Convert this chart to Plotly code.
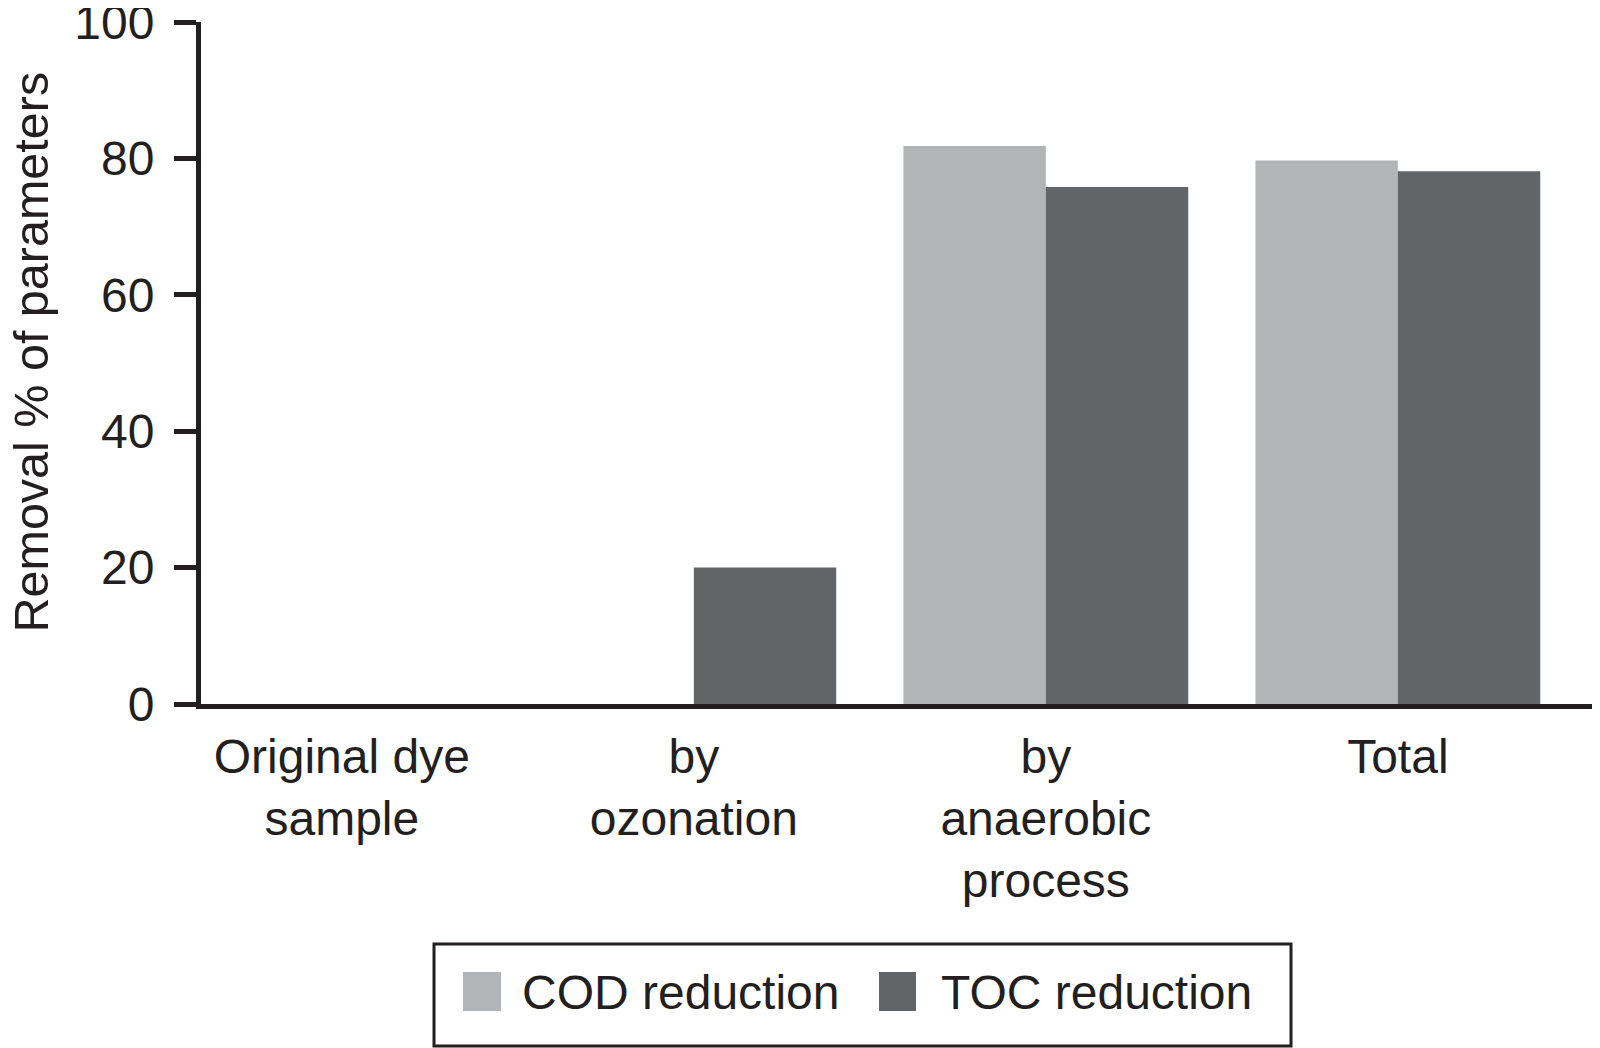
import plotly.graph_objects as go

categories = ["Original dye<br>sample", "by<br>ozonation", "by<br>anaerobic<br>process", "Total"]
cod_reduction = [0, 0, 81.8, 79.7]
toc_reduction = [0, 20, 75.8, 78.1]
y_ticks = [0, 20, 40, 60, 80, 100]
series_names = ["COD reduction", "TOC reduction"]
y_title = "Removal % of parameters"

COD_COLOR = "#b3b4b6"
TOC_COLOR = "#636466"
INK = "#231f20"
FONT = "Liberation Sans, Arial, Helvetica, sans-serif"

W, H = 1600, 1048
ML, MR, MT, MB = 193, 0, 14, 352
PW, PH = W - ML - MR, H - MT - MB


def px(xpix):
    return (xpix - ML) / PW


def py(ypix):
    return (H - MB - ypix) / PH


fig = go.Figure()
fig.add_trace(go.Bar(x=categories, y=cod_reduction, name=series_names[0],
                     marker=dict(color=COD_COLOR, line=dict(width=0)), showlegend=False))
fig.add_trace(go.Bar(x=categories, y=toc_reduction, name=series_names[1],
                     marker=dict(color=TOC_COLOR, line=dict(width=0)), showlegend=False))

fig.update_layout(
    width=W, height=H,
    margin=dict(l=ML, r=MR, t=MT, b=MB, pad=0),
    paper_bgcolor="white", plot_bgcolor="white",
    barmode="group", bargap=0.191, bargroupgap=0,
    font=dict(family=FONT, color=INK, size=48),
    showlegend=False,
)
fig.update_xaxes(
    type="category", range=[-0.400, 3.597],
    showline=True, linewidth=5, linecolor=INK,
    ticks="", showgrid=False, zeroline=False,
    tickfont=dict(family=FONT, size=48, color=INK),
    ticklabelstandoff=6, automargin=False,
)
fig.update_yaxes(
    range=[0, 100], tickvals=y_ticks, ticktext=[str(v) for v in y_ticks],
    showline=True, linewidth=5, linecolor=INK,
    ticks="outside", ticklen=22, tickwidth=5, tickcolor=INK,
    showgrid=False, zeroline=False,
    tickfont=dict(family=FONT, size=48, color=INK),
    ticklabelstandoff=10, ticklabeloverflow="allow", automargin=False,
)

# y-axis title
fig.add_annotation(text=y_title, textangle=-90, xref="paper", yref="paper",
                   x=px(22.5), y=py(344), xanchor="center", yanchor="middle",
                   showarrow=False, font=dict(family=FONT, size=48.5, color=INK))

# legend box, swatches and labels
fig.add_shape(type="rect", xref="paper", yref="paper",
              x0=px(426), x1=px(1283), y0=py(1038), y1=py(936),
              line=dict(color=INK, width=3), fillcolor="rgba(0,0,0,0)")
legend_items = [(series_names[0], COD_COLOR, 455, 493, 512),
                (series_names[1], TOC_COLOR, 871, 908, 931)]
for name, col, sx0, sx1, tx in legend_items:
    fig.add_shape(type="rect", xref="paper", yref="paper",
                  x0=px(sx0), x1=px(sx1), y0=py(1003), y1=py(964),
                  line=dict(width=0), fillcolor=col)
    fig.add_annotation(text=name, xref="paper", yref="paper",
                       x=px(tx), y=py(984), xanchor="left", yanchor="middle",
                       showarrow=False, font=dict(family=FONT, size=48, color=INK))

fig.write_html("out.html")
